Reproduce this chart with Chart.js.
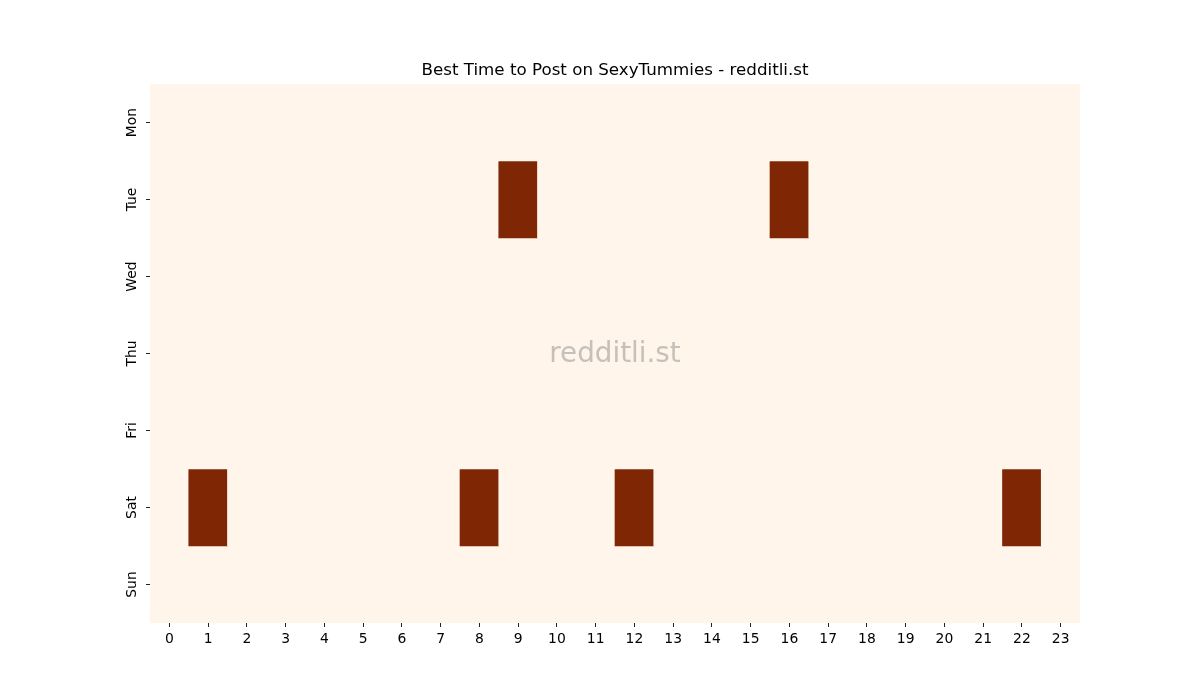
<!DOCTYPE html>
<html>
<head>
<meta charset="utf-8">
<script src="https://cdn.jsdelivr.net/npm/chart.js@4"></script>
<style>
  html, body { margin: 0; padding: 0; background: #fff; }
  #wrap { width: 1200px; height: 700px; }
</style>
</head>
<body>
<div id="wrap"><canvas id="heat" width="1200" height="700"></canvas></div>
<script>
let days = ['Mon', 'Tue', 'Wed', 'Thu', 'Fri', 'Sat', 'Sun'];
let hours = ['0','1','2','3','4','5','6','7','8','9','10','11','12','13','14','15','16','17','18','19','20','21','22','23'];

// one row per day, one value per hour
let mon = [0,0,0,0,0,0,0,0,0,0,0,0,0,0,0,0,0,0,0,0,0,0,0,0];
let tue = [0,0,0,0,0,0,0,0,0,1,0,0,0,0,0,0,1,0,0,0,0,0,0,0];
let wed = [0,0,0,0,0,0,0,0,0,0,0,0,0,0,0,0,0,0,0,0,0,0,0,0];
let thu = [0,0,0,0,0,0,0,0,0,0,0,0,0,0,0,0,0,0,0,0,0,0,0,0];
let fri = [0,0,0,0,0,0,0,0,0,0,0,0,0,0,0,0,0,0,0,0,0,0,0,0];
let sat = [0,1,0,0,0,0,0,0,1,0,0,0,1,0,0,0,0,0,0,0,0,0,1,0];
let sun = [0,0,0,0,0,0,0,0,0,0,0,0,0,0,0,0,0,0,0,0,0,0,0,0];
let rows = [mon, tue, wed, thu, fri, sat, sun];

let lowColor = [255, 245, 235];
let highColor = [127, 39, 4];

function cellColor(v) {
  let c = lowColor.map((lo, i) => Math.round(lo + (highColor[i] - lo) * v));
  return 'rgb(' + c.join(',') + ')';
}

let datasets = rows.map((row, d) => ({
  label: days[d],
  data: row.map(() => [d - 0.5, d + 0.5]),
  backgroundColor: row.map(cellColor),
  borderWidth: 0,
  grouped: false,
  barPercentage: 1,
  categoryPercentage: 1
}));

let font = "'DejaVu Sans', sans-serif";

let extras = {
  id: 'extras',
  beforeDatasetsDraw(chart) {
    let a = chart.chartArea;
    let ctx = chart.ctx;
    ctx.save();
    ctx.fillStyle = cellColor(0);
    ctx.fillRect(a.left, a.top, a.right - a.left, a.bottom - a.top);
    ctx.restore();
  },
  afterDraw(chart) {
    let a = chart.chartArea;
    let ctx = chart.ctx;
    ctx.save();
    ctx.textAlign = 'center';
    ctx.textBaseline = 'middle';
    ctx.fillStyle = '#000';
    ctx.font = '16.7px ' + font;
    ctx.fillText('Best Time to Post on SexyTummies - redditli.st', (a.left + a.right) / 2, 71);
    ctx.fillStyle = 'rgba(128, 128, 128, 0.45)';
    ctx.font = '27.8px ' + font;
    ctx.fillText('redditli.st', (a.left + a.right) / 2, (a.top + a.bottom) / 2 + 1);
    ctx.restore();
  }
};

let chart = new Chart(document.getElementById('heat'), {
  type: 'bar',
  data: { labels: hours, datasets: datasets },
  plugins: [extras],
  options: {
    responsive: false,
    animation: false,
    layout: { padding: { top: 84, right: 120, bottom: 0, left: 0 } },
    plugins: {
      legend: { display: false },
      tooltip: { enabled: false },
      title: { display: false }
    },
    scales: {
      x: {
        type: 'category',
        offset: true,
        grid: { display: true, drawOnChartArea: false, tickLength: 4, color: '#222', offset: false },
        border: { display: false },
        ticks: { color: '#000', font: { family: font, size: 13.9 }, padding: 4, maxRotation: 0, autoSkip: false },
        afterFit: s => { s.height = 77; }
      },
      y: {
        type: 'linear',
        min: -0.5,
        max: 6.5,
        reverse: true,
        grid: { display: true, drawOnChartArea: false, tickLength: 4, color: '#222' },
        border: { display: false },
        ticks: {
          color: '#000',
          font: { family: font, size: 13.9 },
          padding: -2,
          crossAlign: 'center',
          minRotation: 90,
          maxRotation: 90,
          callback: v => days[v]
        },
        afterBuildTicks: s => { s.ticks = days.map((d, i) => ({ value: i })); },
        afterFit: s => { s.width = 150; }
      }
    }
  }
});
</script>
</body>
</html>
